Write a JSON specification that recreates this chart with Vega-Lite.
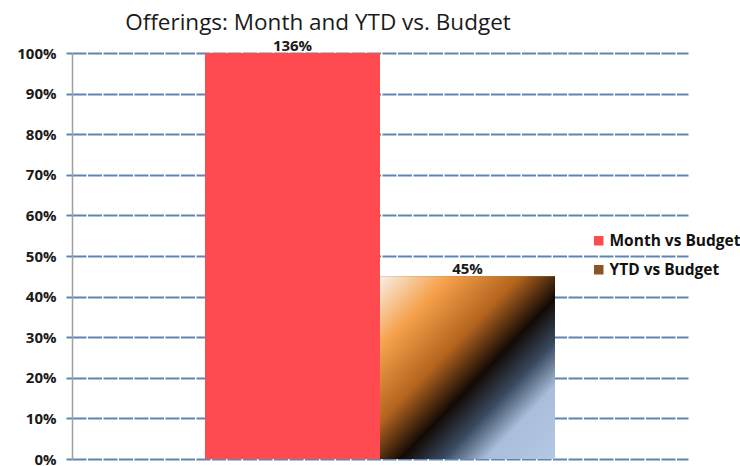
{
  "$schema": "https://vega.github.io/schema/vega-lite/v6.json",
  "width": 616,
  "height": 406,
  "autosize": "none",
  "padding": {"left": 72, "top": 53, "right": 52, "bottom": 7},
  "background": "white",
  "view": {"stroke": null},
  "title": {
    "text": "Offerings: Month and YTD vs. Budget",
    "anchor": "middle",
    "dx": -62,
    "offset": 5,
    "fontSize": 22.5,
    "font": "Open Sans",
    "fontWeight": "normal",
    "color": "#1a1a1a"
  },
  "data": {
    "values": [
      {"series": "Month vs Budget", "value": 1.36},
      {"series": "YTD vs Budget", "value": 0.45}
    ]
  },
  "encoding": {
    "x": {
      "field": "series",
      "type": "nominal",
      "sort": null,
      "axis": null,
      "scale": {"paddingInner": 0, "paddingOuter": 0.76}
    },
    "y": {
      "field": "value",
      "type": "quantitative",
      "scale": {"domain": [0, 1], "clamp": true, "nice": false},
      "axis": {
        "format": ".0%",
        "values": [0, 0.1, 0.2, 0.3, 0.4, 0.5, 0.6, 0.7, 0.8, 0.9, 1],
        "title": null,
        "labelFont": "Open Sans",
        "labelFontWeight": "bold",
        "labelFontSize": 15,
        "labelColor": "#1a1a1a",
        "labelPadding": 10,
        "grid": true,
        "gridColor": "#5f86b3",
        "gridWidth": 2,
        "gridDash": [14, 1.5],
        "domainColor": "#a0a0a0",
        "domainWidth": 1.5,
        "tickColor": "#5f86b3",
        "tickWidth": 2,
        "tickSize": 6
      }
    }
  },
  "layer": [
    {
      "mark": {"type": "bar", "clip": true},
      "encoding": {
        "color": {
          "field": "series",
          "type": "nominal",
          "scale": {
            "domain": ["Month vs Budget", "YTD vs Budget"],
            "range": ["#ff4b4f", "#8a5428"]
          },
          "legend": {
            "title": null,
            "orient": "none",
            "legendX": 519,
            "legendY": 180,
            "symbolType": "square",
            "symbolSize": 90,
            "symbolStrokeWidth": 0,
            "labelFont": "Open Sans",
            "labelFontWeight": "bold",
            "labelFontSize": 15.5,
            "labelColor": "#111111",
            "labelOffset": 3,
            "labelLimit": 300,
            "rowPadding": 12,
            "padding": 0
          }
        }
      }
    },
    {
      "transform": [{"filter": "datum.series === 'YTD vs Budget'"}],
      "mark": {
        "type": "bar",
        "clip": true,
        "color": {
          "gradient": "linear",
          "x1": 0, "y1": 0, "x2": 1, "y2": 1,
          "stops": [
            {"offset": 0, "color": "#f8efe6"},
            {"offset": 0.2, "color": "#f5a04a"},
            {"offset": 0.4, "color": "#b4641e"},
            {"offset": 0.56, "color": "#120a05"},
            {"offset": 0.68, "color": "#3a4a60"},
            {"offset": 0.8, "color": "#a9bedb"},
            {"offset": 1, "color": "#b4c8e2"}
          ]
        }
      },
      "encoding": {}
    },
    {
      "mark": {
        "type": "text",
        "baseline": "alphabetic",
        "dy": -2,
        "font": "Open Sans",
        "fontWeight": "bold",
        "fontSize": 15,
        "color": "#1a1a1a"
      },
      "encoding": {
        "text": {"field": "value", "type": "quantitative", "format": ".0%"}
      }
    }
  ]
}
